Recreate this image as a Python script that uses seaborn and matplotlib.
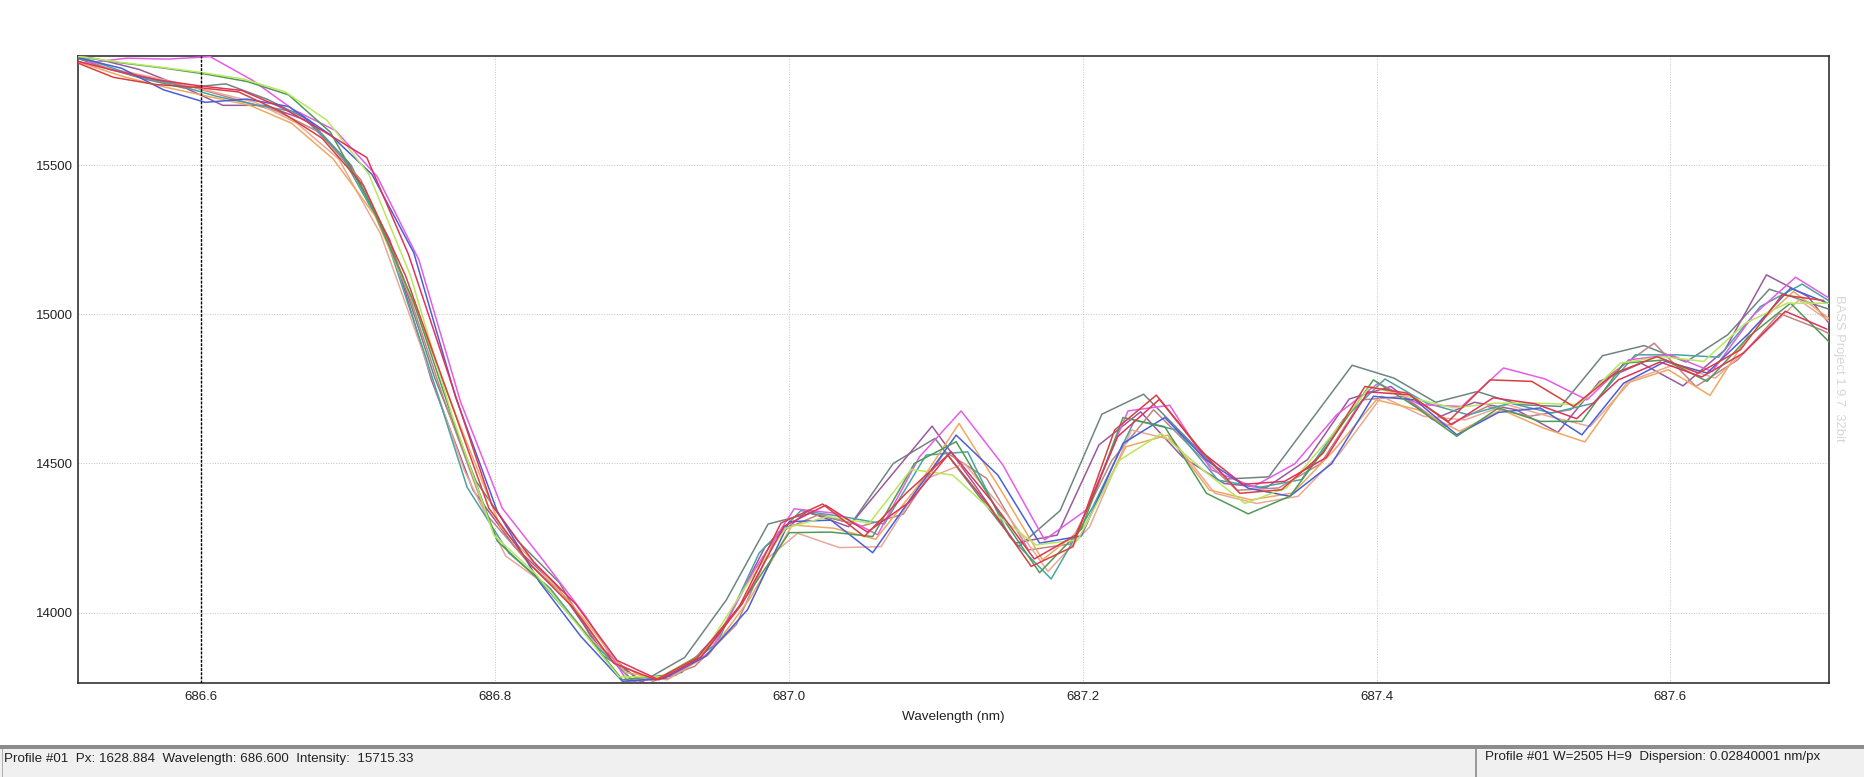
import numpy as np
import pandas as pd
import seaborn as sns
import matplotlib.pyplot as plt
from matplotlib.patches import Rectangle

sns.set_theme(style="white")
plt.rcParams['font.family'] = ['Liberation Sans', 'DejaVu Sans']

DISPERSION = 0.0284

grey = [15880, 15830, 15790, 15758, 15772, 15720, 15650, 15500, 15220, 14790, 14440, 14240, 14100, 13860, 13770,
        13850, 14043, 14297, 14333, 14300, 14500, 14584, 14400, 14221, 14342, 14665, 14732, 14590, 14448, 14455,
        14642, 14829, 14786, 14705, 14741, 14697, 14691, 14861, 14895, 14840, 14931, 15084, 15037, 14990]
purple = [15880, 15855, 15820, 15765, 15700, 15700, 15650, 15510, 15250, 14780, 14410, 14220, 14090, 13890, 13770,
          13800, 13950, 14221, 14339, 14288, 14456, 14625, 14433, 14233, 14260, 14562, 14673, 14522, 14433, 14418,
          14513, 14716, 14758, 14647, 14705, 14680, 14604, 14775, 14836, 14760, 14880, 15132, 15059, 14880]
rose = [15875, 15820, 15790, 15760, 15720, 15680, 15610, 15450, 15130, 14710, 14330, 14170, 14040, 13840, 13770,
        13820, 13960, 14270, 14330, 14290, 14330, 14540, 14450, 14210, 14230, 14510, 14680, 14540, 14410, 14418,
        14499, 14713, 14725, 14624, 14691, 14658, 14680, 14803, 14903, 14758, 14847, 15003, 14948, 14880]
salmon = [15885, 15835, 15810, 15780, 15745, 15710, 15640, 15520, 15270, 14880, 14480, 14190, 14090, 13920, 13775,
          13790, 13900, 14150, 14266, 14218, 14221, 14444, 14500, 14333, 14138, 14288, 14612, 14578, 14400, 14366,
          14390, 14535, 14725, 14658, 14646, 14697, 14658, 14624, 14780, 14830, 14786, 14914, 15048, 14950]
teal = [15880, 15850, 15800, 15770, 15730, 15700, 15675, 15530, 15280, 14860, 14420, 14200, 14080, 13900, 13770,
        13790, 13900, 14200, 14342, 14322, 14297, 14528, 14539, 14255, 14113, 14355, 14645, 14612, 14444, 14420,
        14446, 14647, 14783, 14702, 14663, 14702, 14669, 14702, 14864, 14864, 14856, 15026, 15101, 15014]
magenta = [15870, 15841, 15858, 15855, 15863, 15785, 15685, 15616, 15462, 15183, 14707, 14350, 14172, 13988, 13770,
           13780, 13870, 14134, 14348, 14333, 14261, 14522, 14676, 14495, 14244, 14344, 14676, 14695, 14478, 14422,
           14499, 14663, 14769, 14697, 14691, 14820, 14783, 14713, 14847, 14864, 14808, 14998, 15124, 15037]
orange = [15885, 15840, 15795, 15760, 15730, 15700, 15640, 15520, 15330, 15010, 14640, 14290, 14140, 13980, 13800,
          13775, 13860, 14050, 14294, 14283, 14246, 14422, 14634, 14411, 14177, 14288, 14556, 14595, 14411, 14378,
          14401, 14546, 14713, 14680, 14608, 14680, 14619, 14572, 14769, 14814, 14728, 14948, 15076, 14970]
blue = [15880, 15858, 15824, 15752, 15710, 15721, 15696, 15601, 15468, 15206, 14723, 14340, 14105, 13921, 13770,
        13780, 13854, 14010, 14305, 14310, 14201, 14400, 14595, 14461, 14233, 14257, 14567, 14654, 14511, 14417,
        14390, 14499, 14725, 14713, 14596, 14671, 14686, 14596, 14769, 14842, 14803, 14936, 15087, 15031]
green = [15880, 15862, 15842, 15825, 15805, 15780, 15735, 15610, 15360, 15040, 14620, 14240, 14110, 13950, 13775,
         13790, 13870, 14060, 14268, 14270, 14255, 14500, 14573, 14340, 14134, 14280, 14654, 14623, 14400, 14331,
         14390, 14580, 14780, 14691, 14591, 14686, 14641, 14641, 14836, 14847, 14775, 14925, 15037, 14897]
lime = [15885, 15865, 15845, 15828, 15810, 15788, 15745, 15650, 15470, 15130, 14660, 14260, 14130, 13960, 13785,
        13785, 13860, 14080, 14283, 14322, 14300, 14480, 14461, 14333, 14227, 14244, 14511, 14600, 14478, 14366,
        14418, 14580, 14758, 14720, 14686, 14702, 14702, 14697, 14836, 14858, 14842, 14970, 15037, 15037]
crimson = [15880, 15850, 15815, 15785, 15765, 15750, 15690, 15610, 15525, 15200, 14780, 14360, 14170, 14030, 13840,
           13775, 13850, 14030, 14290, 14360, 14270, 14370, 14540, 14370, 14180, 14260, 14590, 14715, 14540, 14430,
           14440, 14520, 14740, 14730, 14630, 14720, 14700, 14650, 14780, 14840, 14790, 14870, 15010, 14950]
red = [15885, 15850, 15794, 15770, 15760, 15745, 15680, 15590, 15430, 15130, 14740, 14350, 14160, 14020, 13830,
       13775, 13850, 14020, 14300, 14364, 14255, 14400, 14528, 14355, 14155, 14221, 14612, 14729, 14556, 14400,
       14412, 14535, 14758, 14736, 14641, 14780, 14775, 14691, 14803, 14858, 14803, 14881, 15065, 15046]

profiles = {"grey": grey, "purple": purple, "rose": rose, "salmon": salmon, "teal": teal, "magenta": magenta,
            "orange": orange, "blue": blue, "green": green, "lime": lime, "crimson": crimson, "red": red}
# wavelength of the first sample of each profile
starts = {"grey": 686.503, "purple": 686.501, "rose": 686.5098, "salmon": 686.4947, "teal": 686.4969,
          "magenta": 686.4924, "orange": 686.491, "blue": 686.489, "green": 686.489, "lime": 686.4867,
          "crimson": 686.4854, "red": 686.4833}
colors = {"grey": "#6f8582", "purple": "#9a5a9e", "rose": "#c08585", "salmon": "#eaa996", "teal": "#4aa3a3",
          "magenta": "#e85be8", "orange": "#f0a860", "blue": "#4a5fd8", "green": "#4f9a58", "lime": "#b8e860",
          "crimson": "#e0325a", "red": "#d8403f"}

x_ticks = [686.6, 686.8, 687.0, 687.2, 687.4, 687.6]
y_ticks = [14000, 14500, 15000, 15500]

frames = []
for name, vals in profiles.items():
    frames.append(pd.DataFrame({"profile": name, "intensity": vals,
                                "wavelength": starts[name] + DISPERSION * np.arange(len(vals))}))
df = pd.concat(frames, ignore_index=True)

W, H = 1864, 777
fig = plt.figure(figsize=(W / 100, H / 100), dpi=100, facecolor="white")
ax = fig.add_axes([78 / W, 1 - 682.5 / H, (1829 - 78) / W, (682.5 - 55.5) / H])

sns.lineplot(data=df, x="wavelength", y="intensity", hue="profile", palette=colors, estimator=None,
             sort=False, legend=False, linewidth=1.1, ax=ax, zorder=3)

ax.set_xlim(686.516, 687.708)
ax.set_ylim(13766, 15867)
ax.set_xticks(x_ticks)
ax.set_xticklabels([f"{v:.1f}" for v in x_ticks], fontsize=9.5, color="#222222")
ax.set_yticks(y_ticks)
ax.set_yticklabels([str(v) for v in y_ticks], fontsize=9.5, color="#222222")
ax.tick_params(axis="x", length=0, pad=6)
ax.tick_params(axis="y", length=0, pad=3.5)
ax.set_xlabel("Wavelength (nm)", fontsize=9.7, color="#222222", labelpad=6)
ax.set_ylabel("")
ax.grid(True, linestyle=":", color="#c4c4c4", linewidth=0.7)
ax.set_axisbelow(True)
for side in ax.spines.values():
    side.set_color("#222222")
    side.set_linewidth(1.1)

# cursor
ax.axvline(686.6, color="black", linestyle="--", linewidth=1.0, dashes=(2, 1), zorder=4)

# watermark on the right
fig.text(1839 / W, 1 - 368 / H, "BASS Project 1.9.7  32bit", rotation=270, ha="center", va="center",
         fontsize=9.4, color="#d6d6d6")

# status bar
fig.add_artist(Rectangle((0, 0), 1, (H - 745) / H, transform=fig.transFigure, facecolor="#f0f0f0", edgecolor="none"))
fig.add_artist(Rectangle((0, (H - 749) / H), 1, 4 / H, transform=fig.transFigure, facecolor="#8c8c8c", edgecolor="none"))
fig.add_artist(Rectangle((1475 / W, 0), 1.5 / W, (H - 749) / H, transform=fig.transFigure, facecolor="#9a9a9a", edgecolor="none"))
fig.add_artist(Rectangle((2 / W, 0), 1 / W, (H - 749) / H, transform=fig.transFigure, facecolor="#b0b0b0", edgecolor="none"))
fig.text(4 / W, 1 - 759 / H, "Profile #01  Px: 1628.884  Wavelength: 686.600  Intensity:  15715.33",
         ha="left", va="center", fontsize=9.65, color="#222222")
fig.text(1485 / W, 1 - 757 / H, "Profile #01 W=2505 H=9  Dispersion: 0.02840001 nm/px",
         ha="left", va="center", fontsize=9.65, color="#222222")

fig.savefig("out.png", dpi=100)
